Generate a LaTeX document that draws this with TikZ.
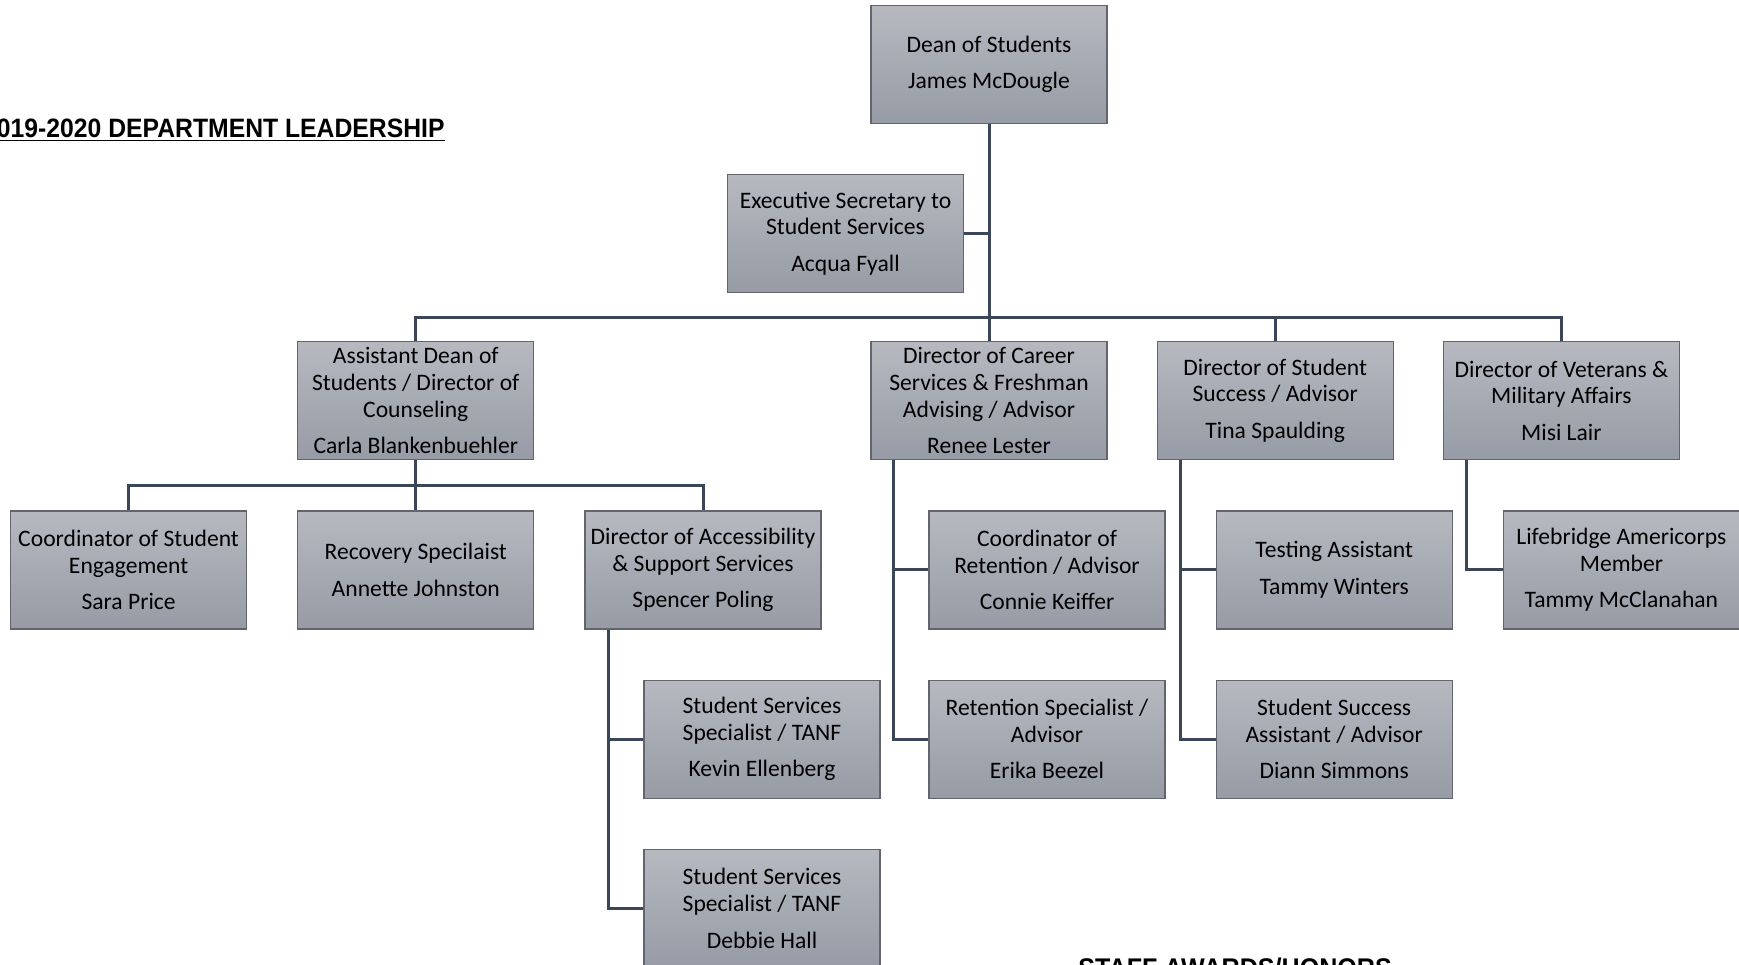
\documentclass[tikz,border=0pt]{standalone}
\usepackage{fontspec}
\setmainfont{Carlito}
\newfontfamily\headfont[FakeStretch=0.93]{Liberation Sans Bold}
\usepackage{tikz}
\usetikzlibrary{positioning}
\definecolor{boxtop}{RGB}{182, 185, 192}
\definecolor{boxbot}{RGB}{150, 155, 165}
\definecolor{boxline}{RGB}{98, 102, 108}
\definecolor{linkcol}{RGB}{59, 70, 88}
\tikzstyle{box} = [rectangle, draw=boxline, line width=0.6pt, top color=boxtop, bottom color=boxbot, text=black, align=center, font=\fontsize{11.8}{13.3}\selectfont, minimum width=118pt, minimum height=59pt, inner sep=1pt]
\tikzstyle{head} = [inner sep=0pt, text=black, font=\headfont\fontsize{13.3}{16}\selectfont]
\tikzstyle{link} = [draw=linkcol, line width=1.5pt]

\begin{document}
\begin{tikzpicture}

\useasboundingbox (0,0) rectangle (869.5pt,-482pt);
\clip (0,0) rectangle (869.5pt,-482pt);

% headings =============================
\node[head, anchor=base east] (title) at (222.5pt,-68.5pt) {\underline{2019-2020 DEPARTMENT LEADERSHIP}};
\node[head, anchor=north west, font=\headfont\fontsize{13.5}{16}\selectfont] (awards) at (539pt,-479pt) {STAFF AWARDS/HONORS};

% top
\node[box] (dean) at (494.5pt,-32.25pt) {Dean of Students\\[5pt]James McDougle};
\node[box, below=25pt of dean, xshift=-71.75pt] (exec) {Executive Secretary to\\Student Services\\[5pt]Acqua Fyall};

% directors
\node[box, below=108.5pt of dean] (career) {Director of Career\\Services \& Freshman\\Advising / Advisor\\[5pt]Renee Lester};
\node[box, left=168pt of career] (asst) {Assistant Dean of\\Students / Director of\\Counseling\\[5pt]Carla Blankenbuehler};
\node[box, right=24.5pt of career] (success) {Director of Student\\Success / Advisor\\[5pt]Tina Spaulding};
\node[box, right=24.5pt of success] (veterans) {Director of Veterans \&\\Military Affairs\\[5pt]Misi Lair};

% under assistant dean
\node[box, below=25pt of asst] (recovery) {Recovery Specilaist\\[5pt]Annette Johnston};
\node[box, left=25pt of recovery] (engage) {Coordinator of Student\\Engagement\\[5pt]Sara Price};
\node[box, right=25pt of recovery] (access) {Director of Accessibility\\\& Support Services\\[5pt]Spencer Poling};
\node[box, below=25pt of access, xshift=29.5pt] (kevin) {Student Services\\Specialist / TANF\\[5pt]Kevin Ellenberg};
\node[box, below=25pt of kevin] (debbie) {Student Services\\Specialist / TANF\\[5pt]Debbie Hall};

% under career
\node[box, below=25pt of career, xshift=29pt] (retain) {Coordinator of\\Retention / Advisor\\[5pt]Connie Keiffer};
\node[box, below=25pt of retain] (retspec) {Retention Specialist /\\Advisor\\[5pt]Erika Beezel};

% under success
\node[box, below=25pt of success, xshift=29.5pt] (testing) {Testing Assistant\\[5pt]Tammy Winters};
\node[box, below=25pt of testing] (diann) {Student Success\\Assistant / Advisor\\[5pt]Diann Simmons};

% under veterans
\node[box, below=25pt of veterans, xshift=30pt] (life) {Lifebridge Americorps\\Member\\[5pt]Tammy McClanahan};

%links
\path[link] (dean.south) -- (career.north);
\path[link] (exec.east) -- (exec.east -| dean.south);
\path[link] (asst.north) -- ++(0,12pt) -| (veterans.north);
\path[link] (success.north) -- ++(0,12pt);

\path[link] (asst.south) -- (recovery.north);
\path[link] (engage.north) -- ++(0,12.5pt) -| (access.north);
\path[link] ([xshift=12pt]access.south west) |- (kevin.west);
\path[link] ([xshift=12pt]access.south west) |- (debbie.west);

\path[link] ([xshift=11.5pt]career.south west) |- (retain.west);
\path[link] ([xshift=11.5pt]career.south west) |- (retspec.west);

\path[link] ([xshift=12pt]success.south west) |- (testing.west);
\path[link] ([xshift=12pt]success.south west) |- (diann.west);

\path[link] ([xshift=12pt]veterans.south west) |- (life.west);

\end{tikzpicture}
\end{document}
